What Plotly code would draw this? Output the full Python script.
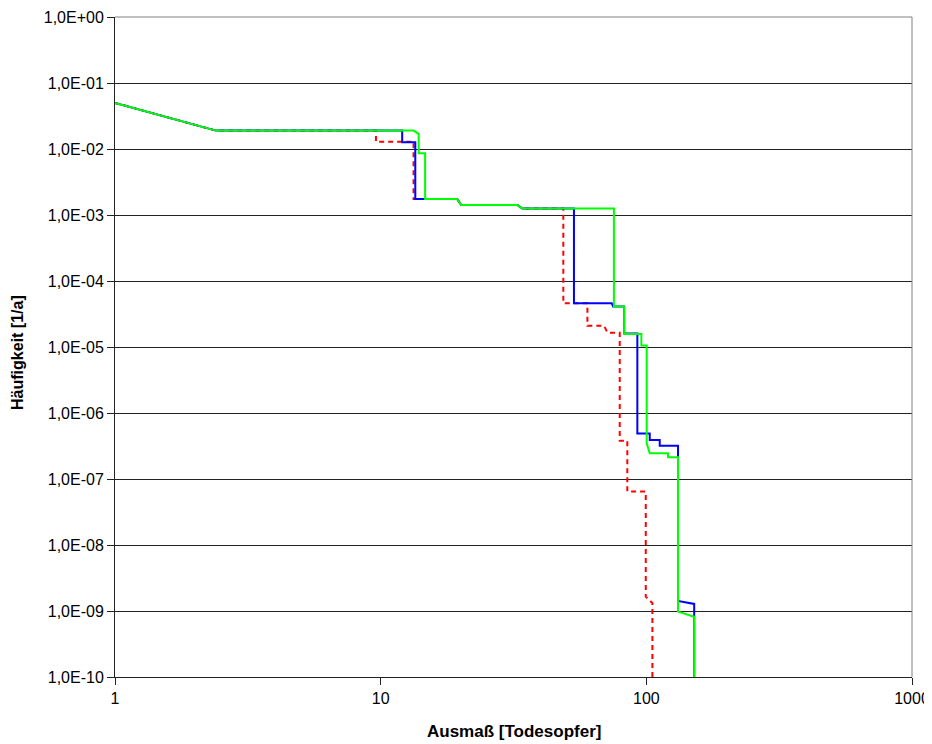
import plotly.graph_objects as go

# ---- data ----
red_x = [1, 2.4, 9.6, 9.6, 13.3, 13.3, 19.4, 20.1, 32.7, 34.1, 48.7, 48.7, 60, 60,
         69.3, 71.4, 79.4, 79.4, 84.8, 84.8, 99.5, 99.5, 105.4, 105.4]
red_y = [0.05, 0.019, 0.019, 0.0129, 0.0129, 0.00175, 0.00175, 0.00142, 0.00142,
         0.00126, 0.00126, 4.6e-5, 4.6e-5, 2.1e-5, 2.1e-5, 1.65e-5, 1.65e-5, 3.8e-7,
         3.8e-7, 6.45e-8, 6.45e-8, 1.65e-9, 1.32e-9, 1e-11]

blue_x = [1, 2.4, 12.05, 12.05, 13.5, 13.5, 19.4, 20.1, 32.7, 34.1, 53.4, 53.4, 74.1,
          75.0, 82.5, 82.5, 92.5, 92.5, 103, 103, 112.3, 112.3, 131.6, 131.6, 151.4, 151.4]
blue_y = [0.05, 0.019, 0.019, 0.0127, 0.0127, 0.00175, 0.00175, 0.00142, 0.00142,
          0.00126, 0.00126, 4.6e-5, 4.6e-5, 4.1e-5, 4.1e-5, 1.6e-5, 1.6e-5, 4.9e-7,
          4.9e-7, 3.9e-7, 3.9e-7, 3.2e-7, 3.2e-7, 1.42e-9, 1.28e-9, 1e-11]

green_x = [1, 2.4, 13.3, 13.9, 13.9, 14.7, 14.7, 19.4, 20.1, 32.7, 34.1, 75.5, 75.5,
           82.5, 82.5, 95.8, 95.8, 100.3, 100.3, 103, 120.7, 120.7, 131.6, 131.6,
           151.4, 151.4]
green_y = [0.05, 0.019, 0.019, 0.017, 0.0086, 0.0086, 0.00175, 0.00175, 0.00142,
           0.00142, 0.00126, 0.00126, 4.1e-5, 4.1e-5, 1.57e-5, 1.57e-5, 1.05e-5,
           1.05e-5, 3.47e-7, 2.45e-7, 2.45e-7, 2.13e-7, 2.13e-7, 9.8e-10, 8.2e-10, 1e-11]

y_tickvals = [1e0, 1e-1, 1e-2, 1e-3, 1e-4, 1e-5, 1e-6, 1e-7, 1e-8, 1e-9, 1e-10]
y_ticktext = ["1,0E+00", "1,0E-01", "1,0E-02", "1,0E-03", "1,0E-04", "1,0E-05",
              "1,0E-06", "1,0E-07", "1,0E-08", "1,0E-09", "1,0E-10"]
x_tickvals = [1, 10, 100, 1000]
x_ticktext = ["1", "10", "100", "1000"]

FONT = "Liberation Sans, Arial, sans-serif"

fig = go.Figure()
fig.add_trace(go.Scatter(x=red_x, y=red_y, mode="lines", name="Serie 1",
                         line=dict(color="#FF0000", width=2, dash="5px,4px")))
fig.add_trace(go.Scatter(x=blue_x, y=blue_y, mode="lines", name="Serie 2",
                         line=dict(color="#0000FF", width=2)))
fig.add_trace(go.Scatter(x=green_x, y=green_y, mode="lines", name="Serie 3",
                         line=dict(color="#00FF00", width=2)))

# page body has an 8px margin, so the figure is offset by (8, 8)
fig.update_layout(
    width=924, height=736,
    margin=dict(l=107, r=20, t=9, b=67),
    paper_bgcolor="white", plot_bgcolor="white",
    showlegend=False,
    font=dict(family=FONT, size=16, color="black"),
    xaxis=dict(type="log", range=[0, 3], tickvals=x_tickvals, ticktext=x_ticktext,
               showgrid=False, zeroline=False, showline=True, linecolor="#222",
               linewidth=1, ticks="outside", ticklen=7, tickcolor="#222",
               automargin=False,
               tickfont=dict(family=FONT, size=16, color="black")),
    yaxis=dict(type="log", range=[-10, 0], tickvals=y_tickvals, ticktext=y_ticktext,
               showgrid=True, gridcolor="#222", gridwidth=1, zeroline=False,
               showline=True, linecolor="#222", linewidth=1, ticks="outside",
               ticklen=7, tickcolor="#222", automargin=False,
               tickfont=dict(family=FONT, size=16, color="black")),
    shapes=[
        dict(type="line", xref="paper", yref="paper", x0=0, x1=1, y0=1, y1=1,
             line=dict(color="#808080", width=1), layer="above"),
        dict(type="line", xref="paper", yref="paper", x0=1, x1=1, y0=0, y1=1,
             line=dict(color="#808080", width=1), layer="above"),
        dict(type="rect", xref="paper", yref="paper", x0=1.0213, x1=1.1,
             y0=0.4474, y1=0.5636, line=dict(color="#555", width=1)),
    ],
    annotations=[
        dict(text="<b>Ausmaß [Todesopfer]</b>", xref="paper", yref="paper",
             x=0.5006, y=-0.0833, xanchor="center", yanchor="middle",
             showarrow=False, font=dict(family=FONT, size=17, color="black")),
        dict(text="<b>Häufigkeit [1/a]</b>", xref="paper", yref="paper",
             x=-0.1217, y=0.491, xanchor="center", yanchor="middle",
             textangle=-90, showarrow=False,
             font=dict(family=FONT, size=16, color="black")),
    ],
)

fig.write_html("out.html")
